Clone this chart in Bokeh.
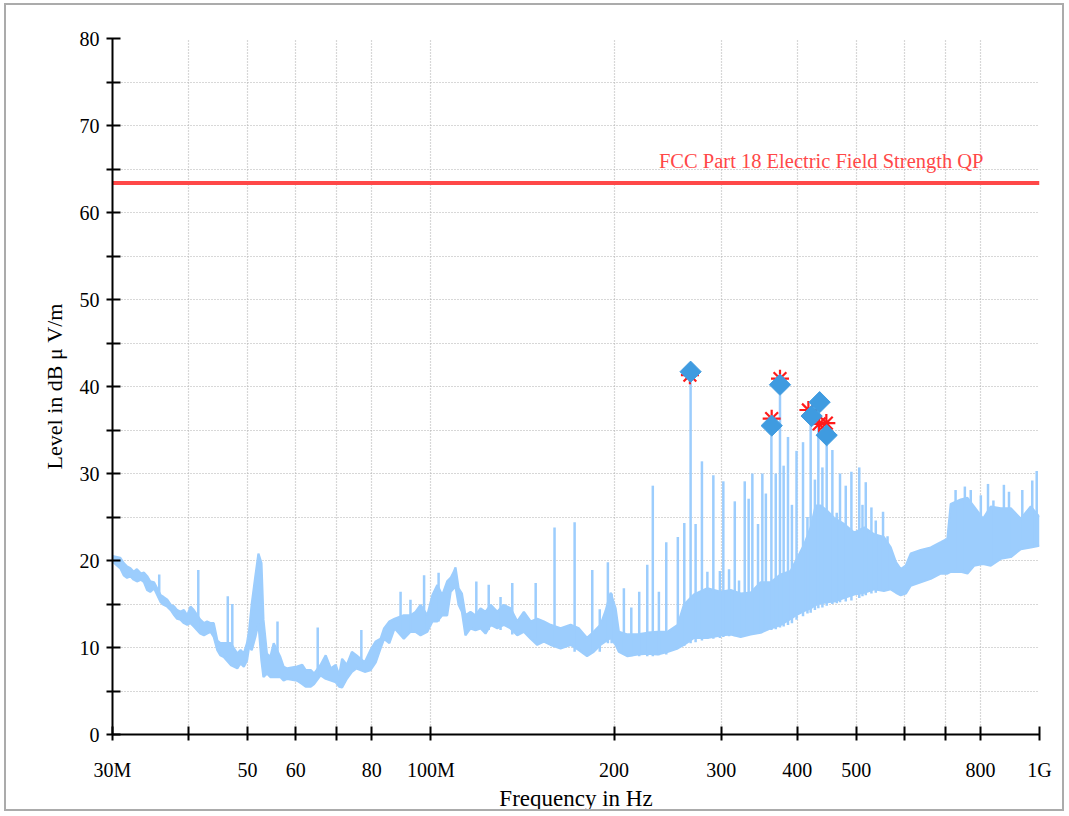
import numpy as np
from bokeh.plotting import figure
from bokeh.models import FixedTicker, CustomJSTickFormatter, ColumnDataSource
from bokeh.core.properties import value
from bokeh.embed import file_html
from bokeh.resources import INLINE

# ---------------- data ----------------
# Spectrum envelope: frequency (MHz), lower and upper level (dBµV/m)
band_freq_mhz = [30.0, 30.9, 31.3, 31.7, 32.1, 32.5, 32.9, 33.4, 33.8, 34.2,
                 34.6, 35.1, 36.0, 36.4, 36.9, 37.4, 37.9, 38.3, 38.8, 39.3,
                 39.8, 40.3, 40.8, 41.8, 42.4, 42.9, 43.5, 44.0, 44.6, 45.1,
                 45.7, 46.9, 48.1, 48.7, 49.3, 49.9, 50.3, 50.8, 51.5, 52.1,
                 52.7, 53.1, 53.8, 54.5, 55.2, 56.6, 57.3, 58.1, 60.3, 61.5,
                 62.3, 63.5, 64.3, 65.9, 67.2, 68.5, 69.8, 70.7, 71.5, 72.8,
                 74.2, 75.5, 77.9, 79.6, 81.2, 82.7, 83.8, 85.5, 87.2, 90.3,
                 92.6, 94.4, 96.2, 98.7, 100.6, 102.5, 104.4, 106.4, 107.8, 109.1,
                 109.8, 111.1, 112.5, 114.0, 116.2, 118.4, 120.7, 123.0, 125.4, 128.6,
                 131.8, 135.2, 138.7, 142.2, 145.9, 149.6, 153.4, 157.3, 163.4, 169.7,
                 175.1, 180.6, 185.2, 190.0, 193.7, 197.4, 201.2, 203.7, 210.5, 218.7,
                 227.2, 235.8, 244.7, 254.5, 260.5, 270.6, 284.7, 299.3, 310.9, 322.9,
                 335.3, 348.3, 361.7, 375.7, 390.1, 400.0, 410.4, 420.8, 428.8, 437.0,
                 448.2, 459.6, 477.4, 496.0, 515.3, 535.1, 555.1, 569.5, 580.9, 591.6,
                 603.0, 614.4, 638.1, 662.7, 688.3, 705.8, 714.8, 742.4, 761.4, 780.7,
                 807.5, 831.7, 863.8, 897.1, 931.6, 967.6, 1000.0]
band_low = [19.9, 19.1, 18.3, 18.0, 18.2, 17.8, 17.6, 17.8, 17.5, 16.6,
            16.4, 16.8, 15.2, 14.9, 14.7, 14.3, 13.7, 13.3, 13.2, 12.8,
            12.6, 12.8, 12.4, 11.6, 11.4, 11.6, 11.8, 11.2, 9.7, 9.1,
            8.9, 8.0, 7.6, 8.2, 7.8, 8.5, 10.1, 9.7, 11.2, 12.8,
            8.5, 6.6, 7.0, 6.6, 6.6, 6.6, 6.2, 6.4, 6.2, 5.8,
            5.5, 5.5, 5.8, 6.8, 6.4, 6.2, 6.0, 5.5, 5.4, 6.4,
            7.2, 7.6, 7.2, 7.4, 8.3, 9.9, 11.0, 10.5, 12.2, 11.0,
            11.8, 11.8, 11.4, 11.8, 13.0, 13.0, 13.7, 13.7, 16.4, 16.8,
            17.0, 14.9, 14.1, 11.4, 12.2, 12.0, 12.2, 11.6, 12.6, 12.2,
            12.6, 12.2, 11.4, 11.8, 11.0, 10.3, 10.7, 10.3, 9.9, 10.3,
            9.7, 9.0, 9.5, 10.3, 10.7, 11.1, 10.3, 9.5, 9.0, 9.2,
            9.3, 9.2, 9.5, 9.9, 10.3, 11.1, 11.1, 11.4, 11.5, 11.2,
            11.5, 11.7, 12.2, 12.6, 13.3, 13.8, 14.2, 14.5, 14.9, 15.1,
            15.2, 15.3, 15.7, 16.1, 16.3, 16.7, 16.5, 16.7, 16.3, 16.0,
            16.2, 17.1, 17.5, 17.9, 18.5, 18.5, 18.7, 18.7, 18.5, 19.4,
            19.6, 19.4, 20.2, 20.4, 21.3, 21.5, 21.7]
band_high = [20.5, 20.3, 19.7, 19.3, 19.1, 18.7, 19.0, 18.5, 18.6, 18.2,
             17.6, 17.5, 16.0, 15.8, 15.5, 14.9, 14.7, 14.3, 14.1, 14.3,
             13.7, 14.7, 14.3, 13.2, 12.8, 13.0, 12.8, 12.8, 10.8, 10.5,
             10.5, 10.5, 9.3, 9.7, 9.3, 10.5, 12.0, 15.0, 18.2, 20.8,
             19.7, 13.2, 9.3, 8.9, 10.5, 8.9, 7.8, 7.6, 7.8, 8.0,
             7.4, 7.4, 7.0, 8.0, 9.1, 7.6, 8.0, 6.8, 8.7, 8.0,
             9.5, 9.1, 8.3, 9.7, 10.7, 11.0, 12.2, 13.0, 13.3, 13.7,
             13.7, 14.1, 14.9, 13.7, 16.0, 17.2, 16.0, 17.6, 18.0, 18.7,
             19.2, 16.8, 16.2, 13.7, 14.1, 13.7, 14.5, 14.1, 14.9, 14.1,
             14.9, 14.5, 13.0, 14.1, 13.0, 13.3, 13.0, 12.6, 12.2, 12.6,
             12.2, 11.1, 11.8, 12.6, 14.2, 16.3, 14.5, 11.8, 11.5, 11.5,
             11.7, 11.8, 11.8, 12.6, 14.9, 16.1, 16.8, 16.4, 16.6, 16.2,
             16.3, 17.5, 17.5, 18.4, 18.8, 20.3, 21.8, 23.8, 26.3, 26.3,
             25.7, 24.9, 24.2, 23.2, 23.8, 23.0, 22.7, 21.5, 19.8, 19.0,
             19.4, 20.8, 21.2, 21.5, 22.1, 22.5, 26.5, 27.0, 27.2, 26.2,
             24.8, 26.2, 26.0, 26.0, 24.8, 26.2, 25.0]

# Narrow emission spikes: frequency (MHz), peak level, foot level
spike_freq_mhz = [35.8, 41.5, 46.4, 47.2, 56.0, 65.2, 76.9, 89.2, 92.6, 97.5, 103.0, 118.8, 124.5,
                  130.2, 136.1, 148.7, 159.7, 172.3, 184.2, 189.5, 195.4, 198.2, 207.6, 213.5,
                  220.0, 226.8, 231.6, 237.0, 243.7, 254.6, 260.9, 267.2, 272.3, 278.9, 284.7,
                  291.2, 298.5, 302.4, 309.0, 315.8, 320.9, 327.9, 332.8, 337.5, 344.8, 350.5,
                  355.2, 362.7, 368.7, 374.7, 379.9, 386.2, 392.0, 398.9, 408.8, 415.7, 420.8,
                  427.6, 433.2, 439.9, 447.1, 456.8, 464.4, 470.2, 480.5, 490.9, 505.7, 511.9,
                  518.3, 529.5, 538.3, 553.3, 562.8, 728.0, 754.0, 771.0, 801.0, 823.0, 840.0,
                  874.0, 891.0, 937.0, 973.0, 989.5]
spike_top = [18.4, 18.9, 15.9, 15.0, 13.0, 12.3, 12.0, 16.4, 15.5, 18.3, 18.6, 17.6, 17.2,
             15.8, 17.4, 17.4, 23.8, 24.4, 18.9, 14.4, 19.8, 16.2, 16.8, 14.6,
             16.4, 19.5, 28.6, 16.4, 22.1, 22.7, 24.3, 40.5, 24.2, 31.4, 18.7,
             29.8, 18.8, 29.1, 19.0, 26.8, 17.7, 29.1, 27.1, 30.0, 24.2, 30.0,
             27.7, 34.3, 30.0, 39.0, 30.9, 34.2, 26.4, 32.6, 33.6, 25.0, 36.0,
             29.3, 36.0, 30.7, 33.3, 32.7, 25.5, 30.0, 28.6, 30.2, 30.7, 26.4,
             29.0, 26.1, 24.6, 25.6, 22.8, 28.1, 28.5, 28.1, 27.5, 28.8, 26.9,
             28.7, 27.9, 28.1, 29.2, 30.3]
spike_base = [16.0, 12.0, 9.0, 8.5, 7.0, 6.5, 8.0, 11.5, 12.0, 12.0, 13.0, 12.0, 12.0,
              12.0, 11.5, 11.0, 10.5, 9.5, 9.5, 9.5, 10.5, 10.5, 9.2, 9.0,
              9.0, 9.0, 9.0, 9.1, 9.2, 10.0, 10.2, 10.5, 10.6, 10.8, 11.0,
              11.0, 11.1, 11.2, 11.3, 11.3, 11.4, 11.4, 11.5, 11.5, 11.7, 11.8,
              11.9, 12.0, 12.1, 12.3, 12.4, 12.6, 12.8, 13.2, 13.6, 13.9, 14.0,
              14.3, 14.5, 14.6, 14.8, 15.0, 15.1, 15.2, 15.3, 15.4, 15.7, 15.9,
              16.0, 16.2, 16.3, 16.5, 16.6, 19.0, 19.0, 19.0, 19.5, 19.6, 19.8,
              20.3, 20.5, 21.4, 21.6, 21.6]

# Final measurement markers
peak_freq_mhz = [267.2, 374.7, 363.1, 422.4, 435.3, 447.1]
peak_level = [41.7, 40.2, 35.5, 36.6, 38.2, 34.4]
qp_freq_mhz = [266.5, 374.7, 363.1, 417.2, 434.5, 446.5]
qp_level = [41.3, 40.9, 36.3, 37.3, 35.7, 35.8]

# Limit line
limit_freq_mhz = [30.0, 1000.0]
limit_level = [63.4, 63.4]
limit_label = "FCC Part 18 Electric Field Strength QP"

# Axis ticks
x_tick_mhz = [30, 40, 50, 60, 70, 80, 100, 200, 300, 400, 500, 600, 700, 800, 1000]
x_tick_labels = ["30M", "", "50", "60", "", "80", "100M", "200", "300", "400", "500", "", "", "800", "1G"]
y_ticks = [0, 5, 10, 15, 20, 25, 30, 35, 40, 45, 50, 55, 60, 65, 70, 75, 80]
y_tick_labels = ["0", "", "10", "", "20", "", "30", "", "40", "", "50", "", "60", "", "70", "", "80"]

# ---------------- styling ----------------
SPEC = "#9ccdfd"
DIAMOND = "#3f9be0"
LIMIT = "#ff4848"
FONT = "Liberation Serif"

MHZ = 1e6
x_ticks_hz = [v * MHZ for v in x_tick_mhz]

p = figure(width=1060, height=808, x_axis_type="log",
           x_range=(limit_freq_mhz[0] * MHZ, limit_freq_mhz[1] * MHZ), y_range=(0, 80),
           output_backend="svg", toolbar_location=None,
           min_border_left=106, min_border_right=27, min_border_top=33, min_border_bottom=75)
p.styles = {"border": "2px solid #ababab", "margin-left": "4px", "margin-top": "3px"}
p.outline_line_color = None
p.background_fill_color = "white"
p.border_fill_color = "white"

p.xaxis.ticker = FixedTicker(ticks=x_ticks_hz, minor_ticks=[])
p.xaxis.formatter = CustomJSTickFormatter(
    args=dict(vals=x_ticks_hz, labs=x_tick_labels),
    code="const i = vals.findIndex(v => Math.abs(v - tick) < 1); return i >= 0 ? labs[i] : '';")
p.yaxis.ticker = FixedTicker(ticks=y_ticks, minor_ticks=[])
p.yaxis.formatter = CustomJSTickFormatter(
    args=dict(vals=y_ticks, labs=y_tick_labels),
    code="const i = vals.findIndex(v => Math.abs(v - tick) < 1e-6); return i >= 0 ? labs[i] : '';")

p.xaxis.axis_label = "Frequency in Hz"
p.yaxis.axis_label = "Level in dB \u03bc V/m"

for ax in (p.xaxis[0], p.yaxis[0]):
    ax.axis_line_width = 2
    ax.axis_line_color = "black"
    ax.major_tick_line_width = 2
    ax.major_tick_line_color = "black"
    ax.major_tick_in = 8
    ax.major_tick_out = 6
    ax.minor_tick_line_color = None
    ax.major_label_text_font = FONT
    ax.major_label_text_font_size = "20px"
    ax.major_label_text_color = "black"
    ax.axis_label_text_font = FONT
    ax.axis_label_text_font_style = "normal"
    ax.axis_label_text_color = "black"

p.xaxis.axis_label_text_font_size = "23px"
p.yaxis.axis_label_text_font_size = "22px"
p.xaxis.major_label_standoff = 18
p.xaxis.axis_label_standoff = 2
p.yaxis.major_label_standoff = 7
p.yaxis.axis_label_standoff = 10

p.grid.grid_line_color = "#b0b0b0"
p.grid.grid_line_dash = "1 2"
p.grid.grid_line_width = 1.2

# spectrum
band = ColumnDataSource(dict(f=np.array(band_freq_mhz) * MHZ, lo=band_low, hi=band_high))
p.varea(x="f", y1="lo", y2="hi", source=band, fill_color=SPEC)
p.line(x="f", y="hi", source=band, line_color=SPEC, line_width=2.2)
p.line(x="f", y="lo", source=band, line_color=SPEC, line_width=2.2)

spikes = ColumnDataSource(dict(f=np.array(spike_freq_mhz) * MHZ, top=spike_top, base=spike_base))
p.segment(x0="f", y0="base", x1="f", y1="top", source=spikes, line_color=SPEC, line_width=2.5)

# limit line and label
p.line(x=np.array(limit_freq_mhz) * MHZ, y=limit_level, line_color=LIMIT, line_width=4)
p.text(x=[limit_freq_mhz[1] * MHZ], y=[limit_level[1]], text=[limit_label],
       text_align="right", text_baseline="alphabetic", x_offset=-56, y_offset=-22,
       text_font=value(FONT), text_font_size="20.5px", text_color=LIMIT)

# measurement markers
p.scatter(x=np.array(qp_freq_mhz) * MHZ, y=qp_level, marker="asterisk", size=18,
          line_color="#ff1a1a", line_width=2.2)
p.scatter(x=np.array(peak_freq_mhz) * MHZ, y=peak_level, marker="square", angle=np.pi / 4,
          size=15, fill_color=DIAMOND, line_color=DIAMOND)

open("out.html", "w").write(file_html(p, INLINE, title="EMC scan"))
